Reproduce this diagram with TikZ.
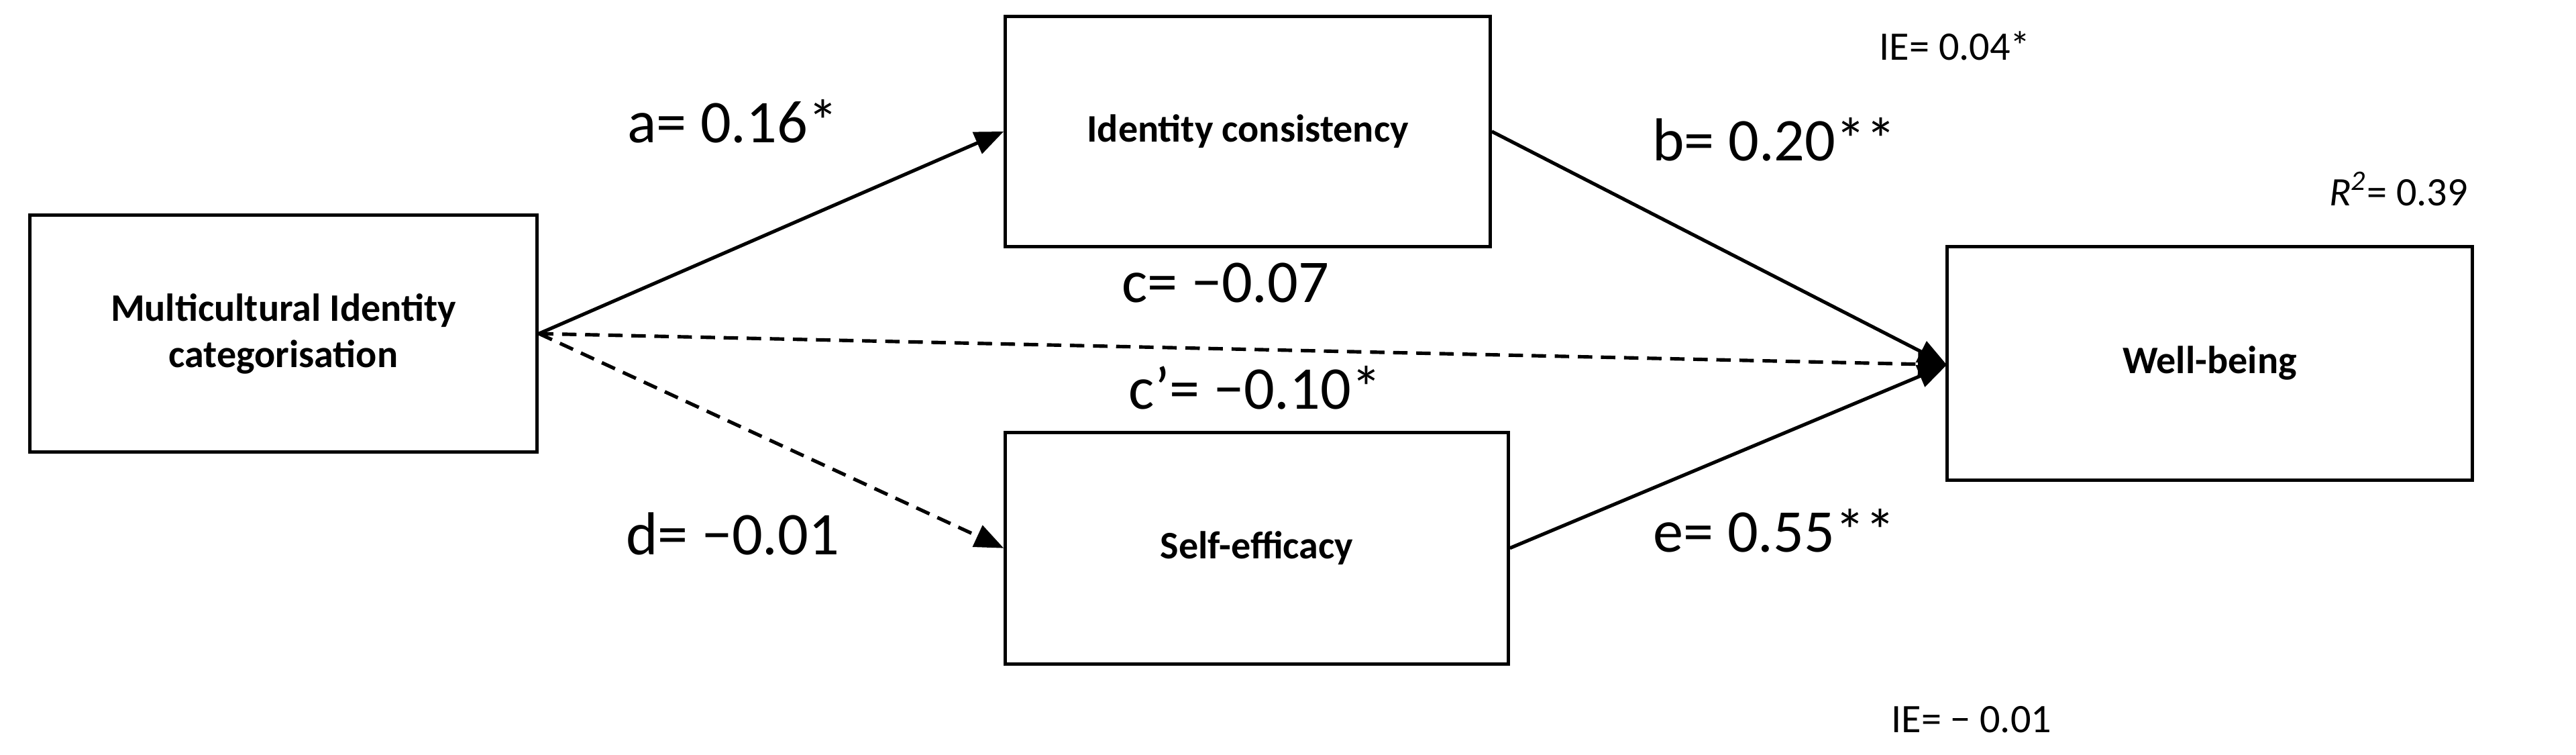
\documentclass[tikz,border=0pt]{standalone}
\usepackage{fontspec}
\setmainfont{Carlito}
\usetikzlibrary{arrows.meta}
\begin{document}
\begin{tikzpicture}[x=0.02cm,y=-0.02cm,
  box/.style={draw,line width=1.2pt,inner sep=0pt,font=\fontsize{13.5}{16}\selectfont\bfseries,align=center},
  lab/.style={font=\fontsize{21}{23}\selectfont},
  small/.style={font=\fontsize{14}{16}\selectfont},
  con/.style={line width=1.2pt,-{Triangle[length=10pt,width=8pt]}},
  dcon/.style={con,dash pattern=on 5pt off 3pt}]
\useasboundingbox (0,0) rectangle (1568,459);
\node[box,minimum width=309*0.02cm,minimum height=144*0.02cm] (m) at (172.5,203) {Multicultural Identity\\categorisation};
\node[box,minimum width=295*0.02cm,minimum height=140*0.02cm] (i) at (759.5,80) {Identity consistency};
\node[box,minimum width=306*0.02cm,minimum height=141*0.02cm] (s) at (765,333.5) {Self-efficacy};
\node[box,minimum width=320*0.02cm,minimum height=142*0.02cm] (w) at (1345,221) {Well-being};
\coordinate (wl) at (1185,222);
\draw[con] (m.east) -- (i.west);
\draw[dcon] (m.east) -- (s.west);
\draw[dcon] (m.east) -- (wl);
\draw[con] (i.east) -- (wl);
\draw[con] (s.east) -- (wl);
\node[lab] (la) at (446,74) {a= 0.16*};
\node[lab] (lb) at (1080,85) {b= 0.20**};
\node[lab] (lc) at (746,172) {c= −0.07};
\node[lab] (lc2) at (764,236) {c’= −0.10*};
\node[lab] (ld) at (446,325) {d= −0.01};
\node[lab] (le) at (1080,323) {e= 0.55**};
\node[small] (ie1) at (1190,28) {IE= 0.04*};
\node[small] (r2) at (1460,115) {\textit{R}$^{\mathit{2}}$= 0.39};
\node[small] (ie2) at (1200,438) {IE= − 0.01};
\end{tikzpicture}
\end{document}
